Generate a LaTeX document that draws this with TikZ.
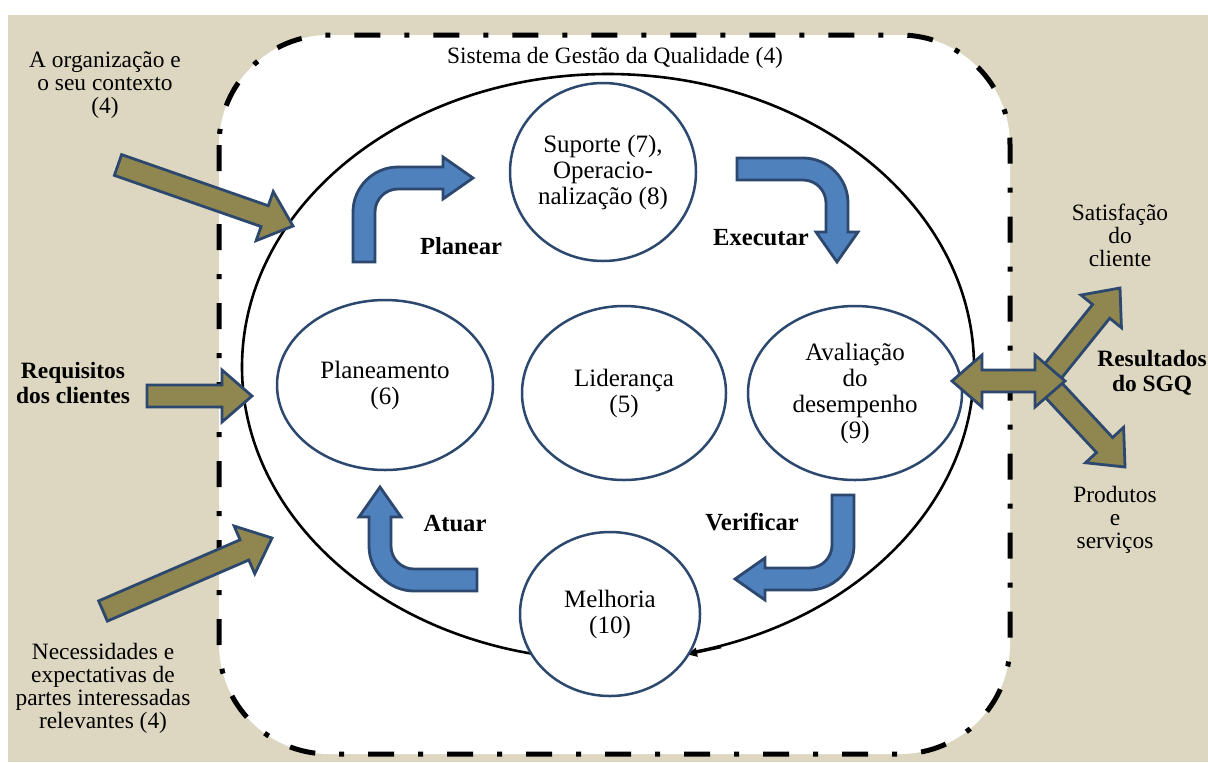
\documentclass[tikz,border=0pt]{standalone}
\usepackage{fontspec}
\setmainfont{Liberation Serif}
\usetikzlibrary{arrows.meta,calc,shapes.geometric}
\definecolor{bege}{RGB}{221,215,193}
\definecolor{azul}{RGB}{79,129,189}
\definecolor{azulesc}{RGB}{44,72,110}
\definecolor{oliva}{RGB}{143,134,80}

% straight block arrow: tail, tip
\newcommand\setaoliva[2]{%
  \path ($(#2)!15pt!(#1)$) coordinate (hb);
  \draw[olv] ($(#1)!5.5pt!90:(#2)$) -- ($(hb)!5.5pt!90:(#2)$) -- ($(hb)!13pt!90:(#2)$) -- (#2)
    -- ($(hb)!13pt!-90:(#2)$) -- ($(hb)!5.5pt!-90:(#2)$) -- ($(#1)!5.5pt!-90:(#2)$) -- cycle;}
% block arrow with two heads
\newcommand\setadupla[2]{%
  \path ($(#2)!15pt!(#1)$) coordinate (hb) ($(#1)!15pt!(#2)$) coordinate (ha);
  \draw[olv] (#1) -- ($(ha)!13pt!90:(#2)$) -- ($(ha)!5.5pt!90:(#2)$) -- ($(hb)!5.5pt!90:(#2)$)
    -- ($(hb)!13pt!90:(#2)$) -- (#2) -- ($(hb)!13pt!-90:(#2)$) -- ($(hb)!5.5pt!-90:(#2)$)
    -- ($(ha)!5.5pt!-90:(#2)$) -- ($(ha)!13pt!-90:(#2)$) -- cycle;}
% bent blue arrow: corner, rotation, tail length, tip length
\newcommand\setacurva[4]{%
  \begin{scope}[shift={(#1)}, rotate=#2]
    \draw[azl] (-11,#3) -- (-11,34) .. controls (-11,9.2) and (9.2,-11) .. (34,-11)
      -- ({#4-30},-11) -- ({#4-30},-21) -- (#4,0) -- ({#4-30},21) -- ({#4-30},11) -- (34,11)
      .. controls (21.3,11) and (11,21.3) .. (11,34) -- (11,#3) -- cycle;
  \end{scope}}

\begin{document}
\begin{tikzpicture}[x=0.5pt, y=-0.5pt,
    txt/.style={align=center, inner sep=0pt, font=\fontsize{11.7}{11.5}\selectfont},
    btxt/.style={align=center, inner sep=0pt, font=\fontsize{11.7}{12.5}\selectfont\bfseries},
    ciclo/.style={inner sep=0pt, font=\fontsize{12.3}{13}\selectfont\bfseries},
    circ/.style={draw=azulesc, line width=1.25pt, fill=white, ellipse, inner sep=0pt, align=center, font=\fontsize{12.5}{13}\selectfont},
    olv/.style={fill=oliva, draw=azulesc, line width=1.4pt, line join=miter},
    azl/.style={fill=azul, draw=azulesc, line width=1.4pt, line join=miter},
    moldura/.style={draw=black, fill=white, line width=2.5pt, rounded corners=55pt, dash pattern=on 13pt off 12pt on 2.5pt off 12pt}
]
\useasboundingbox (0,0) rectangle (1208,762);
\fill[bege] (8,15) rectangle (1208,762);
\draw[moldura] (219,35) rectangle (1010,754);

% big cycle
\node[draw, line width=1.3pt, ellipse, minimum width=366pt, minimum height=293pt] (sgq) at (608,367) {};
\draw[line width=1.3pt, -{Latex[length=6pt,width=5pt]}] (sgq.-68) -- (sgq.-75.5);
\node[txt] (titulo) at (615,58) {Sistema de Gestão da Qualidade (4)};

% clauses
\node[circ, minimum width=93pt, minimum height=89pt] (sup) at (603,172) {Suporte (7),\\Operacio-\\nalização (8)};
\node[circ, minimum width=108pt, minimum height=85pt] (plan) at (385,385) {Planeamento\\(6)};
\node[circ, minimum width=102pt, minimum height=87pt] (lid) at (624,393) {Liderança\\(5)};
\node[circ, minimum width=107pt, minimum height=87pt] (aval) at (855,393) {Avaliação\\do\\desempenho\\(9)};
\node[circ, minimum width=90pt, minimum height=82pt] (melh) at (610,614) {Melhoria\\(10)};

% PDCA arrows
\setacurva{364,178}{0}{84}{109}
\setacurva{837,169}{-90}{100}{93}
\setacurva{843,579}{180}{84}{108}
\setacurva{380,580}{90}{97}{93}
\node[ciclo] (planear) at (461,246) {Planear};
\node[ciclo] (executar) at (761,238) {Executar};
\node[ciclo] (verificar) at (752,522) {Verificar};
\node[ciclo] (atuar) at (455,524) {Atuar};

% inputs
\node[txt] (contexto) at (105,85) {A organização e\\o seu contexto\\(4)};
\node[btxt] (requisitos) at (73,383) {Requisitos\\dos clientes};
\node[txt] (partes) at (103,688) {Necessidades e\\expectativas de\\partes interessadas\\relevantes (4)};
\coordinate (e1) at (118,165);
\coordinate (e1f) at (293,226);
\coordinate (e2) at (147,396);
\coordinate (e2f) at (252,396);
\coordinate (e3) at (103,611);
\coordinate (e3f) at (272,538);
\setaoliva{e1}{e1f}
\setaoliva{e2}{e2f}
\setaoliva{e3}{e3f}

% outputs
\node[txt] (satisf) at (1120,235) {Satisfação\\do\\cliente};
\node[btxt] (result) at (1152,373) {Resultados\\do SGQ};
\node[txt] (produtos) at (1115,520) {Produtos\\e\\serviços};
\coordinate (s0) at (1045,381);
\coordinate (s1) at (1120,288);
\coordinate (s2) at (1125,467);
\coordinate (sl) at (952,381);
\coordinate (sr) at (1065,381);
\setaoliva{s0}{s1}
\setaoliva{s0}{s2}
\setadupla{sl}{sr}
\end{tikzpicture}
\end{document}
